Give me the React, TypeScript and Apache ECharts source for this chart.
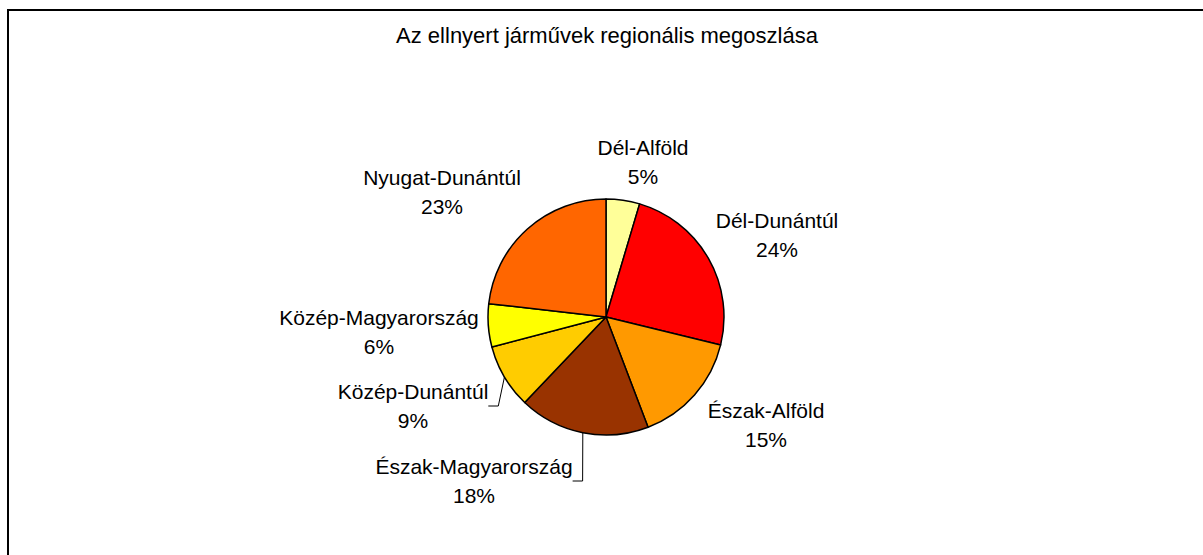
import React, { useEffect, useRef } from "react";
import * as echarts from "echarts";

const title = "Az ellnyert járművek regionális megoszlása";
const categories = [
  "Dél-Alföld",
  "Dél-Dunántúl",
  "Észak-Alföld",
  "Észak-Magyarország",
  "Közép-Dunántúl",
  "Közép-Magyarország",
  "Nyugat-Dunántúl",
];
const values = [4.6, 24.2, 15.4, 17.9, 8.8, 5.9, 23.2];
const colors = ["#FFFF99", "#FF0000", "#FF9900", "#993300", "#FFCC00", "#FFFF00", "#FF6600"];
const withLeader = [false, false, false, true, true, false, false];
// label block centres (layout only)
const labelCentres: [number, number][] = [
  [643, 162],
  [777, 235],
  [766, 425],
  [474, 481],
  [413, 406],
  [379, 332],
  [442, 192],
];

const FONT = "'Liberation Sans', Arial, sans-serif";

export default function App() {
  const ref = useRef<HTMLDivElement>(null);
  useEffect(() => {
    if (!ref.current) return;
    const chart = echarts.init(ref.current, null, { renderer: "svg" });
    chart.setOption({
      animation: false,
      backgroundColor: "#ffffff",
      graphic: [
        {
          type: "rect",
          shape: { x: 8, y: 10, width: 1205, height: 560 },
          style: { fill: "none", stroke: "#000000", lineWidth: 2 },
          silent: true,
        },
        {
          type: "text",
          x: 607,
          y: 35,
          style: {
            text: title,
            align: "center",
            verticalAlign: "middle",
            fontFamily: FONT,
            fontSize: 22,
            fill: "#000000",
          },
        },
      ],
      series: [
        {
          type: "pie",
          center: [606, 317],
          radius: 118,
          startAngle: 90,
          clockwise: true,
          avoidLabelOverlap: false,
          emphasis: { disabled: true },
          itemStyle: { borderColor: "#000000", borderWidth: 1.5 },
          label: {
            show: true,
            position: "outside",
            fontFamily: FONT,
            fontSize: 21,
            color: "#000000",
            lineHeight: 29,
            align: "center",
            formatter: (p: any) => `${p.name}\n${Math.round(p.percent)}%`,
          },
          labelLine: {
            show: true,
            length: 10,
            length2: 10,
            smooth: false,
            lineStyle: { color: "#000000", width: 1 },
          },
          labelLayout: (params: any) => {
            const c = labelCentres[params.dataIndex];
            return { x: c[0], y: c[1], align: "center", verticalAlign: "middle" };
          },
          data: categories.map((name, i) => ({
            name,
            value: values[i],
            itemStyle: { color: colors[i] },
            labelLine: { show: withLeader[i] },
          })),
        },
      ],
    });
    return () => chart.dispose();
  }, []);
  return (
    <div
      ref={ref}
      style={{ position: "absolute", left: 0, top: 0, width: 1203, height: 555 }}
    />
  );
}
